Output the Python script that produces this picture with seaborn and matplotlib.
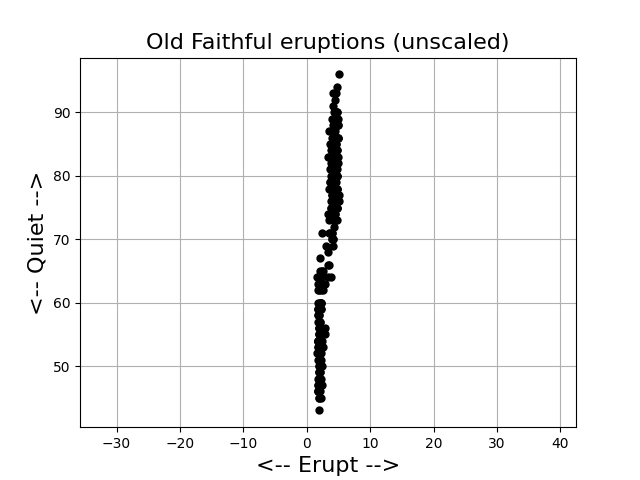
import numpy as np
import matplotlib
matplotlib.use("Agg")
import matplotlib.pyplot as plt
import seaborn as sns

# Old Faithful geyser data: eruption length (min) and waiting time (min)
eruptions = [
    3.600, 1.800, 3.333, 2.283, 4.533, 2.883, 4.700, 3.600, 1.950, 4.350,
    1.833, 3.917, 4.200, 1.750, 4.700, 2.167, 1.750, 4.800, 1.600, 4.250,
    1.800, 1.750, 3.450, 3.067, 4.533, 3.600, 1.967, 4.083, 3.850, 4.433,
    4.300, 4.467, 3.367, 4.033, 3.833, 2.017, 1.867, 4.833, 1.833, 4.783,
    4.350, 1.883, 4.567, 1.750, 4.533, 3.317, 3.833, 2.100, 4.633, 2.000,
    4.800, 4.716, 1.833, 4.833, 1.733, 4.883, 3.717, 1.667, 4.567, 4.317,
    2.233, 4.500, 1.750, 4.800, 1.817, 4.400, 4.167, 4.700, 2.067, 4.700,
    4.033, 1.967, 4.500, 4.000, 1.983, 5.067, 2.017, 4.567, 3.883, 3.600,
    4.133, 4.333, 4.100, 2.633, 4.067, 4.933, 3.950, 4.517, 2.167, 4.000,
    2.200, 4.333, 1.867, 4.817, 1.833, 4.300, 4.667, 3.750, 1.867, 4.900,
    2.483, 4.367, 2.100, 4.500, 4.050, 1.867, 4.700, 1.783, 4.850, 3.683,
    4.733, 2.300, 4.900, 4.417, 1.700, 4.633, 2.317, 4.600, 1.817, 4.417,
    2.617, 4.067, 4.250, 1.967, 4.600, 3.767, 1.917, 4.500, 2.267, 4.650,
    1.867, 4.167, 2.800, 4.333, 1.833, 4.383, 1.883, 4.933, 2.033, 3.733,
    4.233, 2.233, 4.533, 4.817, 4.333, 1.983, 4.633, 2.017, 5.100, 1.800,
    5.033, 4.000, 2.400, 4.600, 3.567, 4.000, 4.500, 4.083, 1.800, 3.967,
    2.200, 4.150, 2.000, 3.833, 3.500, 4.583, 2.367, 5.000, 1.933, 4.617,
    1.917, 2.083, 4.583, 3.333, 4.167, 4.333, 4.500, 2.417, 4.000, 4.167,
    1.883, 4.583, 4.250, 3.767, 2.033, 4.433, 4.083, 1.833, 4.417, 2.183,
    4.800, 1.833, 4.800, 4.100, 3.966, 4.233, 3.500, 4.366, 2.250, 4.667,
    2.100, 4.350, 4.133, 1.867, 4.600, 1.783, 4.367, 3.850, 1.933, 4.500,
    2.383, 4.700, 1.867, 3.833, 3.417, 4.233, 2.400, 4.800, 2.000, 4.150,
    1.867, 4.267, 1.750, 4.483, 4.000, 4.117, 4.083, 4.267, 3.917, 4.550,
    4.083, 2.417, 4.183, 2.217, 4.450, 1.883, 1.850, 4.283, 3.950, 2.333,
    4.150, 2.350, 4.933, 2.900, 4.583, 3.833, 2.083, 4.367, 2.133, 4.350,
    2.200, 4.450, 3.567, 4.500, 4.150, 3.817, 3.917, 4.450, 2.000, 4.283,
    4.767, 4.533, 1.850, 4.250, 1.983, 2.250, 4.750, 4.117, 2.150, 4.417,
    1.817, 4.467,
]

waiting = [
    79, 54, 74, 62, 85, 55, 88, 85, 51, 85,
    54, 84, 78, 47, 83, 52, 62, 84, 52, 79,
    51, 47, 78, 69, 74, 83, 55, 76, 78, 79,
    73, 77, 66, 80, 74, 52, 48, 80, 59, 90,
    80, 58, 84, 58, 73, 83, 64, 53, 82, 59,
    75, 90, 54, 80, 54, 83, 71, 64, 77, 81,
    59, 84, 48, 82, 60, 92, 78, 78, 65, 73,
    82, 56, 79, 71, 62, 76, 60, 78, 76, 83,
    75, 82, 70, 65, 73, 88, 76, 80, 48, 86,
    60, 90, 50, 78, 63, 72, 84, 75, 51, 82,
    62, 88, 49, 83, 81, 47, 84, 52, 86, 81,
    75, 59, 89, 79, 59, 81, 50, 85, 59, 87,
    53, 69, 77, 56, 88, 81, 45, 82, 55, 90,
    45, 83, 56, 89, 46, 82, 51, 86, 53, 79,
    81, 60, 82, 77, 76, 59, 80, 49, 96, 53,
    77, 77, 65, 81, 71, 70, 81, 93, 53, 89,
    45, 86, 58, 78, 66, 76, 63, 88, 52, 93,
    49, 57, 77, 68, 81, 81, 73, 50, 85, 74,
    55, 77, 83, 83, 51, 78, 84, 46, 83, 55,
    81, 57, 76, 84, 77, 81, 87, 77, 51, 78,
    60, 82, 91, 53, 78, 46, 77, 84, 49, 83,
    71, 80, 49, 75, 64, 76, 53, 94, 55, 76,
    50, 82, 54, 75, 78, 79, 78, 78, 70, 79,
    70, 54, 86, 50, 90, 54, 54, 77, 79, 64,
    75, 47, 86, 63, 85, 82, 57, 82, 67, 74,
    54, 83, 73, 73, 88, 80, 71, 83, 56, 79,
    78, 84, 58, 83, 43, 60, 75, 81, 46, 90,
    46, 74,
]

fig, ax = plt.subplots(figsize=(6.4, 4.8), dpi=100)

sns.scatterplot(x=eruptions, y=waiting, color="black", s=36,
                linewidth=0, zorder=2, ax=ax)

ax.axis("equal")
ax.grid(True)
ax.set_title("Old Faithful eruptions (unscaled)", fontsize=16)
ax.set_xlabel("<-- Erupt -->", fontsize=16)
ax.set_ylabel("<-- Quiet -->", fontsize=16)

plt.savefig("out.png")
